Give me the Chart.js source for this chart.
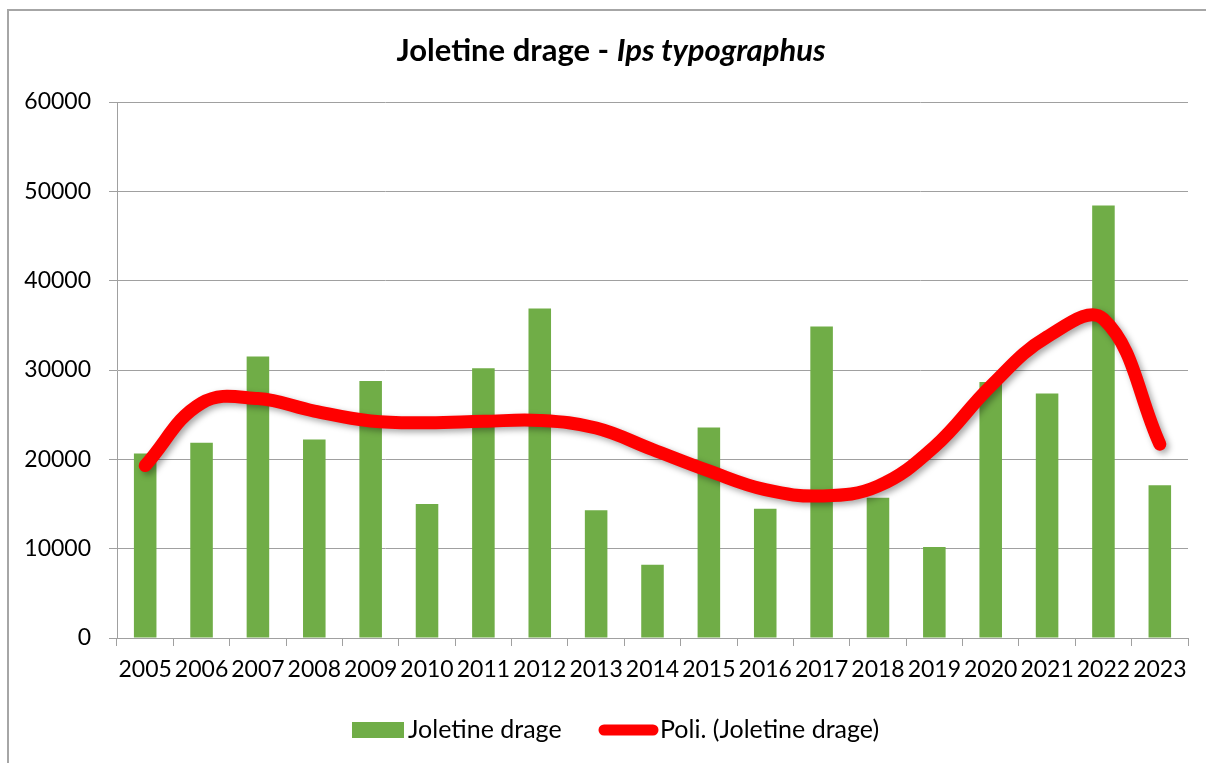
<!DOCTYPE html>
<html>
<head>
<meta charset="utf-8">
<title>Joletine drage - Ips typographus</title>
<script src="https://cdn.jsdelivr.net/npm/chart.js@4.4.1/dist/chart.umd.min.js"></script>
<style>
    html, body { margin: 0; padding: 0; background: #fff; }
    #wrap { position: relative; width: 1206px; height: 763px; overflow: hidden; }
    #frame {
        position: absolute; left: 7px; top: 9px; width: 1220px; height: 800px;
        border-left: 2px solid #a6a6a6; border-top: 2px solid #a6a6a6;
    }
    #chart { position: absolute; left: 0; top: 0; }
</style>
</head>
<body>
<div id="wrap">
    <div id="frame"></div>
    <canvas id="chart" width="1206" height="763"></canvas>
</div>
<script>
(function () {
    'use strict';

    // chart data
    const years = ['2005', '2006', '2007', '2008', '2009', '2010', '2011', '2012', '2013', '2014',
        '2015', '2016', '2017', '2018', '2019', '2020', '2021', '2022', '2023'];
    const catches = [20640, 21870, 31500, 22210, 28780, 15000, 30190, 36880, 14290, 8210,
        23550, 14480, 34860, 15710, 10190, 28670, 27360, 48410, 17090];
    const trend = [19300, 26300, 26800, 25400, 24300, 24100, 24250, 24350, 23500, 21100,
        18700, 16600, 15900, 17000, 21400, 28200, 33700, 35700, 21700];
    const yTicks = [0, 10000, 20000, 30000, 40000, 50000, 60000];

    const titleMain = 'Joletine drage - ';
    const titleItalic = 'Ips typographus';
    const barLabel = 'Joletine drage';
    const trendLabel = 'Poli. (Joletine drage)';

    const GREEN = '#70ad47';
    const RED = '#ff0000';
    const GRID = '#a0a0a0';
    const FONT = 'Lato, "Open Sans", sans-serif';

    Chart.defaults.font.family = FONT;
    Chart.defaults.color = '#000';

    // drop shadow under the trend line
    const shadowPlugin = {
        id: 'trendShadow',
        beforeDatasetDraw(chart, args) {
            if (args.index !== 1) return;
            const ctx = chart.ctx;
            ctx.save();
            ctx.shadowColor = 'rgba(0,0,0,0.35)';
            ctx.shadowBlur = 6;
            ctx.shadowOffsetX = 3;
            ctx.shadowOffsetY = 3;
        },
        afterDatasetDraw(chart, args) {
            if (args.index !== 1) return;
            chart.ctx.restore();
        }
    };

    // title with an italic species name
    const titlePlugin = {
        id: 'mixedTitle',
        afterDraw(chart) {
            const ctx = chart.ctx;
            ctx.save();
            ctx.fillStyle = '#000';
            ctx.textBaseline = 'alphabetic';
            ctx.textAlign = 'left';
            const fBold = 'bold 31px ' + FONT;
            const fItal = 'italic bold 31px ' + FONT;
            ctx.font = fBold;
            const w1 = ctx.measureText(titleMain).width;
            ctx.font = fItal;
            const w2 = ctx.measureText(titleItalic).width;
            let x = 611 - (w1 + w2) / 2;
            ctx.font = fBold;
            ctx.fillText(titleMain, x, 61);
            ctx.font = fItal;
            ctx.fillText(titleItalic, x + w1, 61);
            ctx.restore();
        }
    };

    // legend at the bottom, Excel style
    const legendPlugin = {
        id: 'bottomLegend',
        afterDraw(chart) {
            const ctx = chart.ctx;
            const cy = 730;
            ctx.save();
            ctx.font = '25px ' + FONT;
            ctx.textBaseline = 'middle';
            ctx.fillStyle = GREEN;
            ctx.fillRect(352, cy - 8, 52, 16);
            ctx.fillStyle = '#000';
            ctx.fillText(barLabel, 408, cy);
            ctx.strokeStyle = RED;
            ctx.lineWidth = 11;
            ctx.lineCap = 'round';
            ctx.beginPath();
            ctx.moveTo(604, cy);
            ctx.lineTo(653, cy);
            ctx.stroke();
            ctx.fillStyle = '#000';
            ctx.fillText(trendLabel, 660, cy);
            ctx.restore();
        }
    };

    new Chart(document.getElementById('chart'), {
        type: 'bar',
        data: {
            labels: years,
            datasets: [{
                type: 'bar',
                label: barLabel,
                data: catches,
                backgroundColor: GREEN,
                barPercentage: 0.4,
                categoryPercentage: 1,
                order: 1
            }, {
                type: 'line',
                label: trendLabel,
                data: trend,
                borderColor: RED,
                borderWidth: 13,
                borderCapStyle: 'round',
                borderJoinStyle: 'round',
                tension: 0.4,
                pointRadius: 0,
                fill: false,
                order: 0
            }]
        },
        options: {
            responsive: false,
            animation: false,
            devicePixelRatio: 1,
            layout: { padding: { left: 0, right: 18, top: 102, bottom: 75 } },
            plugins: {
                legend: { display: false },
                title: { display: false },
                tooltip: { enabled: false }
            },
            scales: {
                x: {
                    grid: { display: true, drawOnChartArea: false, drawTicks: true, tickLength: 8, color: GRID, offset: true },
                    border: { display: true, color: GRID, width: 1 },
                    ticks: { font: { size: 23 }, padding: 10, maxRotation: 0, autoSkip: false, color: '#000' },
                    afterFit(scale) { scale.height = 50; }
                },
                y: {
                    min: yTicks[0],
                    max: yTicks[yTicks.length - 1],
                    afterBuildTicks(scale) { scale.ticks = yTicks.map(v => ({ value: v })); },
                    grid: { color: GRID, lineWidth: 1, tickLength: 8, drawTicks: true },
                    border: { display: true, color: GRID, width: 1 },
                    ticks: { font: { size: 23 }, padding: 18, color: '#000', callback: v => String(v) },
                    afterFit(scale) { scale.width = 117; }
                }
            }
        },
        plugins: [shadowPlugin, titlePlugin, legendPlugin]
    });
})();
</script>
</body>
</html>
